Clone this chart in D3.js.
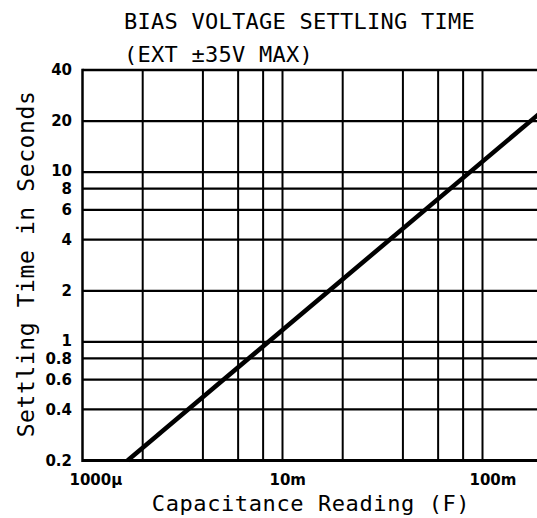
<!DOCTYPE html>
<html>
<head>
<meta charset="utf-8">
<script src="https://cdn.jsdelivr.net/npm/d3@7/dist/d3.min.js"></script>
<style>
  html, body { margin: 0; padding: 0; background: #fff; }
  svg { display: block; }
</style>
</head>
<body>
<div id="chart"></div>
<script>
// Settling time vs. capacitance, log-log
const titleLines = ["BIAS VOLTAGE SETTLING TIME", "(EXT \u00B135V MAX)"];
const xTitle = "Capacitance Reading (F)";
const yTitle = "Settling Time in Seconds";

// Capacitance (F) and settling time (s) at the ends of the straight line
const capacitance = [0.00168, 0.2];
const settlingTime = [0.2, 23];

// Grid and ticks
const xGrid = [0.002, 0.004, 0.006, 0.008, 0.01, 0.02, 0.04, 0.06, 0.08, 0.1];
const xTickValues = [0.001, 0.01, 0.1];
const xTickLabels = ["1000\u00B5", "10m", "100m"];
const yGrid = [0.4, 0.6, 0.8, 1, 2, 4, 6, 8, 10, 20];
const yTickValues = [0.2, 0.4, 0.6, 0.8, 1, 2, 4, 6, 8, 10, 20, 40];
const yTickLabels = ["0.2", "0.4", "0.6", "0.8", "1", "2", "4", "6", "8", "10", "20", "40"];

const W = 537, H = 518;
const plotLeft = 82.5, plotTop = 70, plotBottom = 460.5;
const decadePx = 200;

const x = d3.scaleLog().domain([0.001, 0.2])
  .range([plotLeft, plotLeft + Math.log10(0.2 / 0.001) * decadePx]);
const y = d3.scaleLog().domain([0.2, 40]).range([plotBottom, plotTop]);

const svg = d3.select("#chart").append("svg")
  .attr("width", W).attr("height", H);

const mono = "'DejaVu Sans Mono', monospace";
const bold = "'DejaVu Sans', sans-serif";

// Title
svg.append("g").selectAll("text").data(titleLines).join("text")
  .attr("x", 124).attr("y", (d, i) => 28.5 + i * 33.5)
  .attr("font-family", mono).attr("font-size", 22)
  .attr("letter-spacing", 0.25)
  .attr("fill", "#000").text(d => d);

const xEnd = W + 10;

// Horizontal grid
svg.append("g").selectAll("line").data(yGrid).join("line")
  .attr("x1", plotLeft).attr("x2", xEnd)
  .attr("y1", d => y(d)).attr("y2", d => y(d))
  .attr("stroke", "#000").attr("stroke-width", 2.2);

// Vertical grid
svg.append("g").selectAll("line").data(xGrid).join("line")
  .attr("x1", d => x(d)).attr("x2", d => x(d))
  .attr("y1", plotTop).attr("y2", plotBottom)
  .attr("stroke", "#000").attr("stroke-width", 2);

// Frame: top, left, bottom
svg.append("line").attr("x1", plotLeft).attr("x2", xEnd)
  .attr("y1", y(40)).attr("y2", y(40))
  .attr("stroke", "#000").attr("stroke-width", 2.5);
svg.append("line").attr("x1", plotLeft).attr("x2", xEnd)
  .attr("y1", y(0.2)).attr("y2", y(0.2))
  .attr("stroke", "#000").attr("stroke-width", 3);
svg.append("line").attr("x1", x(0.001)).attr("x2", x(0.001))
  .attr("y1", plotTop - 1.2).attr("y2", plotBottom + 1.5)
  .attr("stroke", "#000").attr("stroke-width", 2.5);

// Settling-time line
const pts = capacitance.map((c, i) => [c, settlingTime[i]]);
svg.append("path")
  .attr("d", d3.line().x(d => x(d[0])).y(d => y(d[1]))(pts))
  .attr("fill", "none").attr("stroke", "#000")
  .attr("stroke-width", 4.5).attr("stroke-linecap", "butt");

// Y tick labels (the tightly stacked "10" and "1" sit a touch higher)
const yNudge = { "10": -1.6, "1": -1.6 };
svg.append("g").selectAll("text").data(yTickValues).join("text")
  .attr("x", 72)
  .attr("y", (d, i) => y(d) + (yNudge[yTickLabels[i]] || 0))
  .attr("dy", "0.36em")
  .attr("text-anchor", "end")
  .attr("font-family", bold).attr("font-weight", "bold").attr("font-size", 15)
  .attr("fill", "#000").text((d, i) => yTickLabels[i]);

// X tick labels
svg.append("g").selectAll("text").data(xTickValues).join("text")
  .attr("x", d => x(d) - 13).attr("y", 484.5)
  .attr("font-family", bold).attr("font-weight", "bold").attr("font-size", 15)
  .attr("fill", "#000").text((d, i) => xTickLabels[i]);

// Axis titles
svg.append("text")
  .attr("x", 311).attr("y", 511)
  .attr("text-anchor", "middle")
  .attr("font-family", mono).attr("font-size", 22).attr("letter-spacing", 0.6)
  .attr("fill", "#000").text(xTitle);

svg.append("text")
  .attr("transform", "translate(34,264) rotate(-90)")
  .attr("text-anchor", "middle")
  .attr("font-family", mono).attr("font-size", 23).attr("letter-spacing", 0.6)
  .attr("fill", "#000").text(yTitle);
</script>
</body>
</html>
